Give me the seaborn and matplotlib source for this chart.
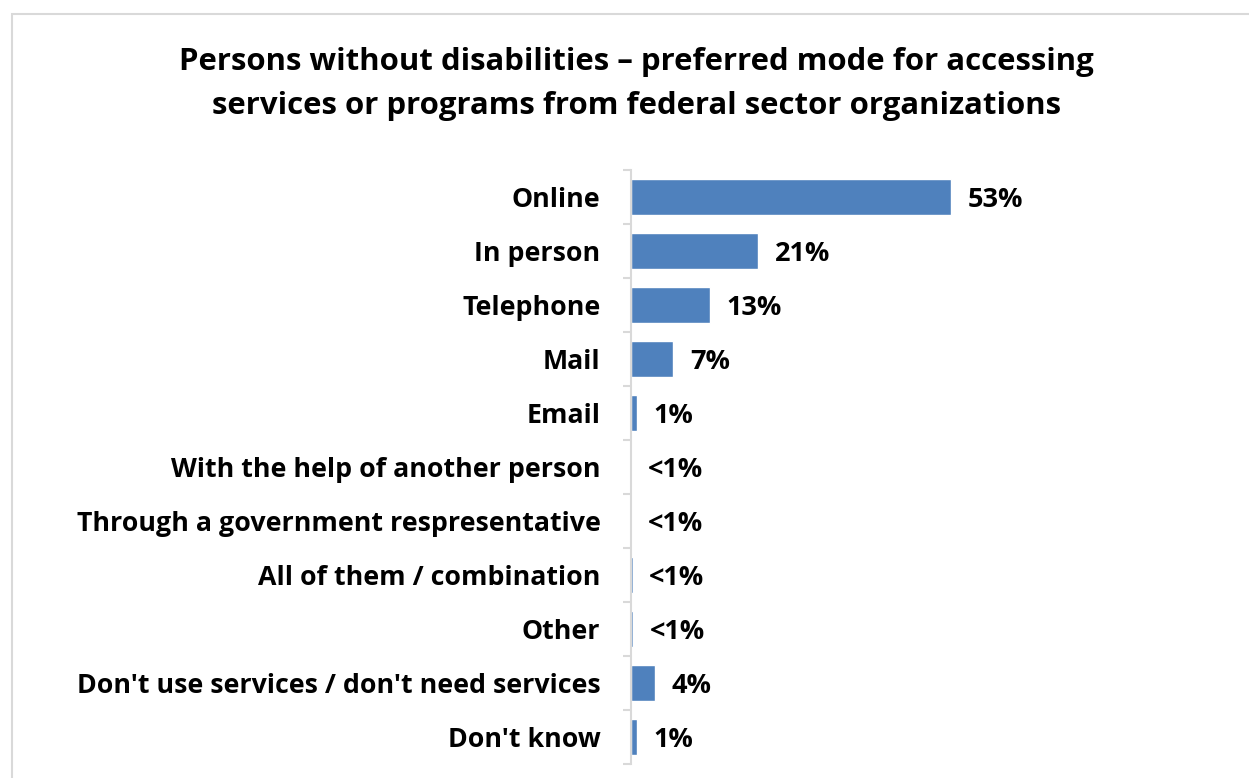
import matplotlib
matplotlib.use("Agg")
import matplotlib.pyplot as plt
from matplotlib.patches import Rectangle
import seaborn as sns
import pandas as pd

# Survey responses: preferred mode for accessing federal services
categories = [
    "Online",
    "In person",
    "Telephone",
    "Mail",
    "Email",
    "With the help of another person",
    "Through a government respresentative",
    "All of them / combination",
    "Other",
    "Don't use services / don't need services",
    "Don't know",
]
values = [53, 21, 13, 7, 1, 0.05, 0.05, 0.25, 0.3, 4, 1]
value_labels = ["53%", "21%", "13%", "7%", "1%", "<1%", "<1%", "<1%", "<1%", "4%", "1%"]

title = ("Persons without disabilities \u2013 preferred mode for accessing\n"
         "services or programs from federal sector organizations")

sns.set_theme(style="white")
plt.rcParams["font.family"] = ["Open Sans", "DejaVu Sans"]

W, H = 1249, 778
fig = plt.figure(figsize=(W / 100, H / 100), dpi=100)
fig.patch.set_facecolor("white")

# plot area: left edge = category axis, rows span top to bottom
ax_left, ax_right = 631, 1235
ax_top, ax_bottom = 170, 764
ax = fig.add_axes([ax_left / W, 1 - ax_bottom / H,
                   (ax_right - ax_left) / W, (ax_bottom - ax_top) / H])

df = pd.DataFrame({"category": categories, "value": values})
sns.barplot(data=df, x="value", y="category", orient="h", color="#4F81BD",
            saturation=1, width=0.65, ax=ax, order=categories)

ax.set_xlim(0, 100)
ax.set_ylim(len(categories) - 0.5, -0.5)
ax.set_xlabel("")
ax.set_ylabel("")
ax.set_xticks([])

for s in ["top", "right", "bottom"]:
    ax.spines[s].set_visible(False)
ax.spines["left"].set_color("#D9D9D9")
ax.spines["left"].set_linewidth(1.5)

# category labels at row centres, tick marks at row boundaries
ax.set_yticks(range(len(categories)))
ax.set_yticklabels(categories, fontsize=19.3, fontweight="bold", color="black")
ax.tick_params(axis="y", which="major", length=0, pad=22)
ax.set_yticks([i - 0.5 for i in range(len(categories) + 1)], minor=True)
ax.tick_params(axis="y", which="minor", length=6, width=1.5, color="#D9D9D9",
               direction="out", left=True)

for i, (v, lab) in enumerate(zip(values, value_labels)):
    ax.annotate(lab, xy=(v, i), xytext=(12, -2), textcoords="offset points",
                ha="left", va="center", fontsize=19.5, fontweight="bold",
                color="black")

fig.text(636 / W, 1 - 47 / H, title, ha="center", va="top", fontsize=22.4,
         fontweight="bold", color="black", linespacing=1.6)

# outer chart frame
fig.patches.append(Rectangle((12 / W, -0.05), 1.1, 1 - 14 / H + 0.05,
                             transform=fig.transFigure, fill=False,
                             edgecolor="#D9D9D9", linewidth=1.5))

fig.savefig("out.png", dpi=100, facecolor="white")
